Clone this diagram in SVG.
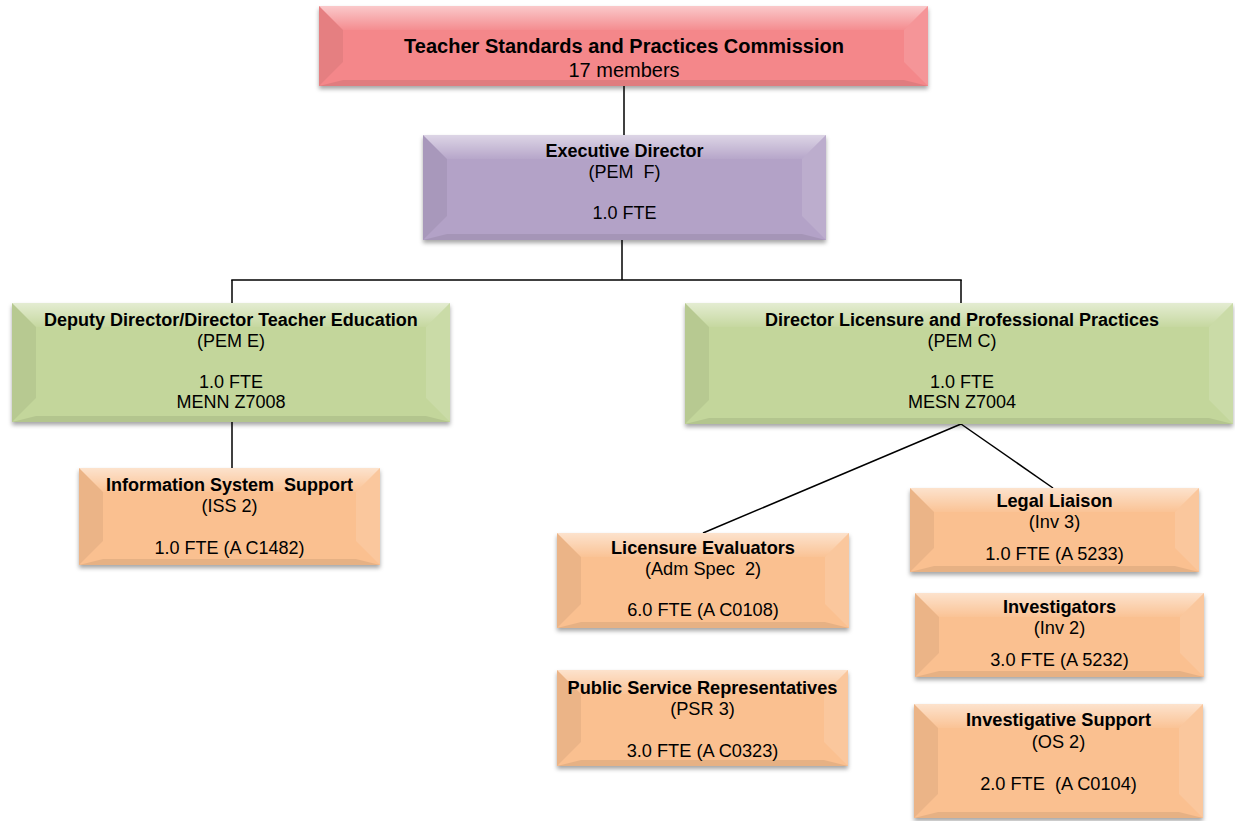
<svg xmlns="http://www.w3.org/2000/svg" width="1235" height="821" viewBox="0 0 1235 821">
<style>
text{font-family:"Liberation Sans",Arial,sans-serif;fill:#000;text-anchor:middle}
.t{font-weight:bold}
.f18{font-size:18px}
.f19{font-size:18.2px}
.f20{font-size:20px}
.red{fill:#F4878A}
.pur{fill:#B3A2C7}
.grn{fill:#C3D69B}
.org{fill:#FAC090}
.base{filter:url(#sh)}
.bt{fill:url(#gt)}
.bl{fill:#000;fill-opacity:0.06}
.br{fill:#fff;fill-opacity:0.12}
.bb{fill:#000;fill-opacity:0.08}
.conn line{stroke:#000;stroke-width:1.5}
</style>
<defs>
<filter id="sh" x="-5%" y="-10%" width="110%" height="130%">
<feDropShadow dx="0" dy="3" stdDeviation="2" flood-color="#000" flood-opacity="0.35"/>
</filter>
<linearGradient id="gt" x1="0" y1="0" x2="0" y2="1">
<stop offset="0" stop-color="#fff" stop-opacity="0.55"/>
<stop offset="1" stop-color="#fff" stop-opacity="0.05"/>
</linearGradient>
</defs>
<rect width="1235" height="821" fill="#fff"/>
<g class="conn">
<line x1="624" y1="86" x2="624" y2="135"/>
<line x1="622" y1="240" x2="622" y2="280"/>
<line x1="231.25" y1="280" x2="961.75" y2="280"/>
<line x1="232" y1="280" x2="232" y2="303"/>
<line x1="961" y1="280" x2="961" y2="303"/>
<line x1="232" y1="422" x2="232" y2="468"/>
<line x1="961" y1="424" x2="703" y2="533"/>
<line x1="961" y1="424" x2="1053" y2="488"/>
</g>
<g id="tspc">
<rect class="base red" x="319" y="6" width="609" height="80"/>
<polygon class="bt" points="319,6 928,6 904,30 343,30"/>
<polygon class="bl" points="319,6 343,30 343,62 319,86"/>
<polygon class="br" points="928,6 928,86 904,62 904,30"/>
<polygon class="bb" points="319,86 343,80 904,80 928,86"/>
<text class="t f20" x="624" y="53">Teacher Standards and Practices Commission</text>
<text class="f20" x="624" y="77">17 members</text>
</g>
<g id="exec">
<rect class="base pur" x="423" y="135" width="403" height="105"/>
<polygon class="bt" points="423,135 826,135 802,159 447,159"/>
<polygon class="bl" points="423,135 447,159 447,216 423,240"/>
<polygon class="br" points="826,135 826,240 802,216 802,159"/>
<polygon class="bb" points="423,240 447,234 802,234 826,240"/>
<text class="t f18" x="624.5" y="157">Executive Director</text>
<text class="f18" x="624.5" y="178" xml:space="preserve">(PEM  F)</text>
<text class="f18" x="624.5" y="219">1.0 FTE</text>
</g>
<g id="deputy">
<rect class="base grn" x="12" y="303" width="438" height="119"/>
<polygon class="bt" points="12,303 450,303 426,327 36,327"/>
<polygon class="bl" points="12,303 36,327 36,398 12,422"/>
<polygon class="br" points="450,303 450,422 426,398 426,327"/>
<polygon class="bb" points="12,422 36,416 426,416 450,422"/>
<text class="t f18" x="231" y="326">Deputy Director/Director Teacher Education</text>
<text class="f18" x="231" y="347">(PEM E)</text>
<text class="f18" x="231" y="388">1.0 FTE</text>
<text class="f18" x="231" y="408">MENN Z7008</text>
</g>
<g id="dlpp">
<rect class="base grn" x="685" y="303" width="548" height="121"/>
<polygon class="bt" points="685,303 1233,303 1209,327 709,327"/>
<polygon class="bl" points="685,303 709,327 709,400 685,424"/>
<polygon class="br" points="1233,303 1233,424 1209,400 1209,327"/>
<polygon class="bb" points="685,424 709,418 1209,418 1233,424"/>
<text class="t f18" x="962" y="326">Director Licensure and Professional Practices</text>
<text class="f18" x="962" y="347">(PEM C)</text>
<text class="f18" x="962" y="388">1.0 FTE</text>
<text class="f18" x="962" y="408">MESN Z7004</text>
</g>
<g id="iss">
<rect class="base org" x="79" y="468" width="301" height="97"/>
<polygon class="bt" points="79,468 380,468 356,492 103,492"/>
<polygon class="bl" points="79,468 103,492 103,541 79,565"/>
<polygon class="br" points="380,468 380,565 356,541 356,492"/>
<polygon class="bb" points="79,565 103,559 356,559 380,565"/>
<text class="t f18" x="229.5" y="491" xml:space="preserve">Information System  Support</text>
<text class="f18" x="229.5" y="512">(ISS 2)</text>
<text class="f18" x="229.5" y="554">1.0 FTE (A C1482)</text>
</g>
<g id="liceval">
<rect class="base org" x="557" y="533" width="292" height="95"/>
<polygon class="bt" points="557,533 849,533 825,557 581,557"/>
<polygon class="bl" points="557,533 581,557 581,604 557,628"/>
<polygon class="br" points="849,533 849,628 825,604 825,557"/>
<polygon class="bb" points="557,628 581,622 825,622 849,628"/>
<text class="t f19" x="703" y="554">Licensure Evaluators</text>
<text class="f19" x="703" y="575" xml:space="preserve">(Adm Spec  2)</text>
<text class="f19" x="703" y="616">6.0 FTE (A C0108)</text>
</g>
<g id="legal">
<rect class="base org" x="910" y="488" width="289" height="84"/>
<polygon class="bt" points="910,488 1199,488 1175,512 934,512"/>
<polygon class="bl" points="910,488 934,512 934,548 910,572"/>
<polygon class="br" points="1199,488 1199,572 1175,548 1175,512"/>
<polygon class="bb" points="910,572 934,566 1175,566 1199,572"/>
<text class="t f19" x="1054.5" y="507">Legal Liaison</text>
<text class="f19" x="1054.5" y="528">(Inv 3)</text>
<text class="f19" x="1054.5" y="560">1.0 FTE (A 5233)</text>
</g>
<g id="investigators">
<rect class="base org" x="915" y="593" width="289" height="84"/>
<polygon class="bt" points="915,593 1204,593 1180,617 939,617"/>
<polygon class="bl" points="915,593 939,617 939,653 915,677"/>
<polygon class="br" points="1204,593 1204,677 1180,653 1180,617"/>
<polygon class="bb" points="915,677 939,671 1180,671 1204,677"/>
<text class="t f19" x="1059.5" y="613">Investigators</text>
<text class="f19" x="1059.5" y="634">(Inv 2)</text>
<text class="f19" x="1059.5" y="666">3.0 FTE (A 5232)</text>
</g>
<g id="psr">
<rect class="base org" x="557" y="670" width="291" height="96"/>
<polygon class="bt" points="557,670 848,670 824,694 581,694"/>
<polygon class="bl" points="557,670 581,694 581,742 557,766"/>
<polygon class="br" points="848,670 848,766 824,742 824,694"/>
<polygon class="bb" points="557,766 581,760 824,760 848,766"/>
<text class="t f19" x="702.5" y="694">Public Service Representatives</text>
<text class="f19" x="702.5" y="715">(PSR 3)</text>
<text class="f19" x="702.5" y="757">3.0 FTE (A C0323)</text>
</g>
<g id="invsupport">
<rect class="base org" x="914" y="704" width="289" height="114"/>
<polygon class="bt" points="914,704 1203,704 1179,728 938,728"/>
<polygon class="bl" points="914,704 938,728 938,794 914,818"/>
<polygon class="br" points="1203,704 1203,818 1179,794 1179,728"/>
<polygon class="bb" points="914,818 938,812 1179,812 1203,818"/>
<text class="t f19" x="1058.5" y="726">Investigative Support</text>
<text class="f19" x="1058.5" y="748">(OS 2)</text>
<text class="f19" x="1058.5" y="790" xml:space="preserve">2.0 FTE  (A C0104)</text>
</g>
</svg>
